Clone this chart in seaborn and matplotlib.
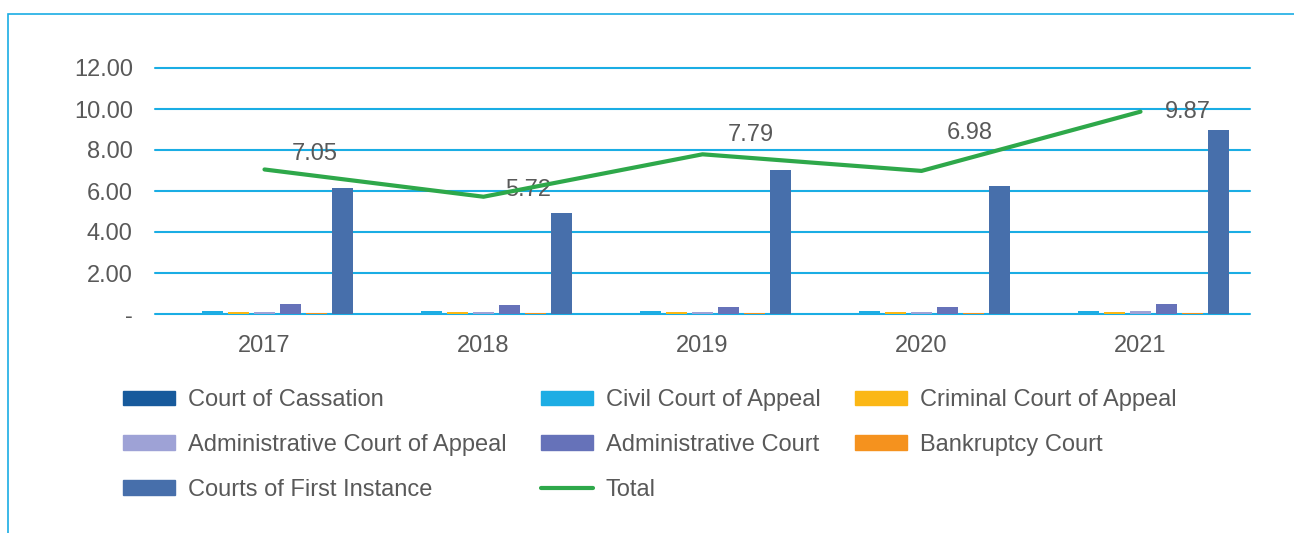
import numpy as np
import pandas as pd
import matplotlib
matplotlib.use('Agg')
import matplotlib.pyplot as plt
import seaborn as sns
from matplotlib.patches import Patch, Rectangle
from matplotlib.lines import Line2D

years = ['2017', '2018', '2019', '2020', '2021']
courts = ['Court of Cassation', 'Civil Court of Appeal', 'Criminal Court of Appeal',
          'Administrative Court of Appeal', 'Administrative Court', 'Bankruptcy Court',
          'Courts of First Instance']
cassation = [0.02, 0.02, 0.02, 0.02, 0.02]
civil_appeal = [0.14, 0.15, 0.15, 0.17, 0.15]
criminal_appeal = [0.11, 0.12, 0.12, 0.12, 0.12]
admin_appeal = [0.12, 0.12, 0.12, 0.09, 0.13]
admin_court = [0.50, 0.42, 0.36, 0.34, 0.48]
bankruptcy = [0.05, 0.04, 0.05, 0.05, 0.05]
first_instance = [6.15, 4.93, 7.02, 6.24, 8.96]
total = [7.05, 5.72, 7.79, 6.98, 9.87]

colors = ['#175A9C', '#1DADE4', '#FBB715', '#9EA2D6', '#6672B9', '#F5921E', '#476FAB']
green = '#2EA84A'
grid_blue = '#1AADE4'
text_grey = '#595959'

# data label offsets (points), as placed in the original chart
label_offsets = [(36, 11), (32, 5), (35, 14), (35, 27), (34, 0)]

series = [cassation, civil_appeal, criminal_appeal, admin_appeal,
          admin_court, bankruptcy, first_instance]
df = pd.DataFrame([(y, c, v[i]) for c, v in zip(courts, series) for i, y in enumerate(years)],
                  columns=['year', 'court', 'value'])

sns.set_style('white')
plt.rcParams['font.family'] = ['Liberation Sans', 'DejaVu Sans']

fig = plt.figure(figsize=(12.94, 5.33), dpi=100)
ax = fig.add_axes([155 / 1294, 1 - 314 / 533, 1095 / 1294, 246 / 533])

sns.barplot(data=df, x='year', y='value', hue='court', hue_order=courts,
            palette=colors, width=0.83, gap=0.22, ax=ax, legend=False,
            saturation=1, errorbar=None, linewidth=0, zorder=3)

xs = np.arange(len(years))
ax.plot(xs, total, color=green, linewidth=3, solid_capstyle='round', zorder=5)
for x, t, off in zip(xs, total, label_offsets):
    ax.annotate(f'{t:.2f}', (x, t), xytext=off, textcoords='offset points',
                ha='center', va='center', fontsize=17, color=text_grey)

ax.set_ylim(0, 12)
ax.set_xlim(-0.5, 4.5)
ax.set_yticks(np.arange(0, 13, 2))
ax.set_yticklabels(['-'] + [f'{v:.2f}' for v in np.arange(2, 13, 2)])
ax.yaxis.grid(True, color=grid_blue, linewidth=1.5, zorder=0)
ax.set_axisbelow(True)
for s in ['top', 'right', 'left', 'bottom']:
    ax.spines[s].set_visible(False)
ax.tick_params(axis='both', length=0, labelsize=17, labelcolor=text_grey)
ax.tick_params(axis='y', pad=16)
ax.tick_params(axis='x', pad=15)
ax.set_xlabel('')
ax.set_ylabel('')
for gl in ax.get_ygridlines():
    gl.set_clip_on(False)

handles = [Patch(color=c, label=l) for c, l in zip(colors, courts)]
total_h = Line2D([], [], color=green, linewidth=3, label='Total')
order = [handles[0], handles[3], handles[6], handles[1], handles[4], total_h,
         handles[2], handles[5]]
fig.legend(handles=order, labels=[h.get_label() for h in order], ncol=3,
           loc='upper left', bbox_to_anchor=(123 / 1294, 1 - 389 / 533),
           frameon=False, fontsize=17, labelcolor=text_grey, handlelength=2.2,
           handleheight=0.55, handletextpad=0.55, columnspacing=1.46,
           labelspacing=0.97, borderpad=0, borderaxespad=0)

fig.patches.append(Rectangle((8 / 1294, -0.1), 1.2, 1.1 - 14 / 533, transform=fig.transFigure,
                             fill=False, edgecolor=grid_blue, linewidth=1.2))

fig.savefig('out.png', dpi=100)
